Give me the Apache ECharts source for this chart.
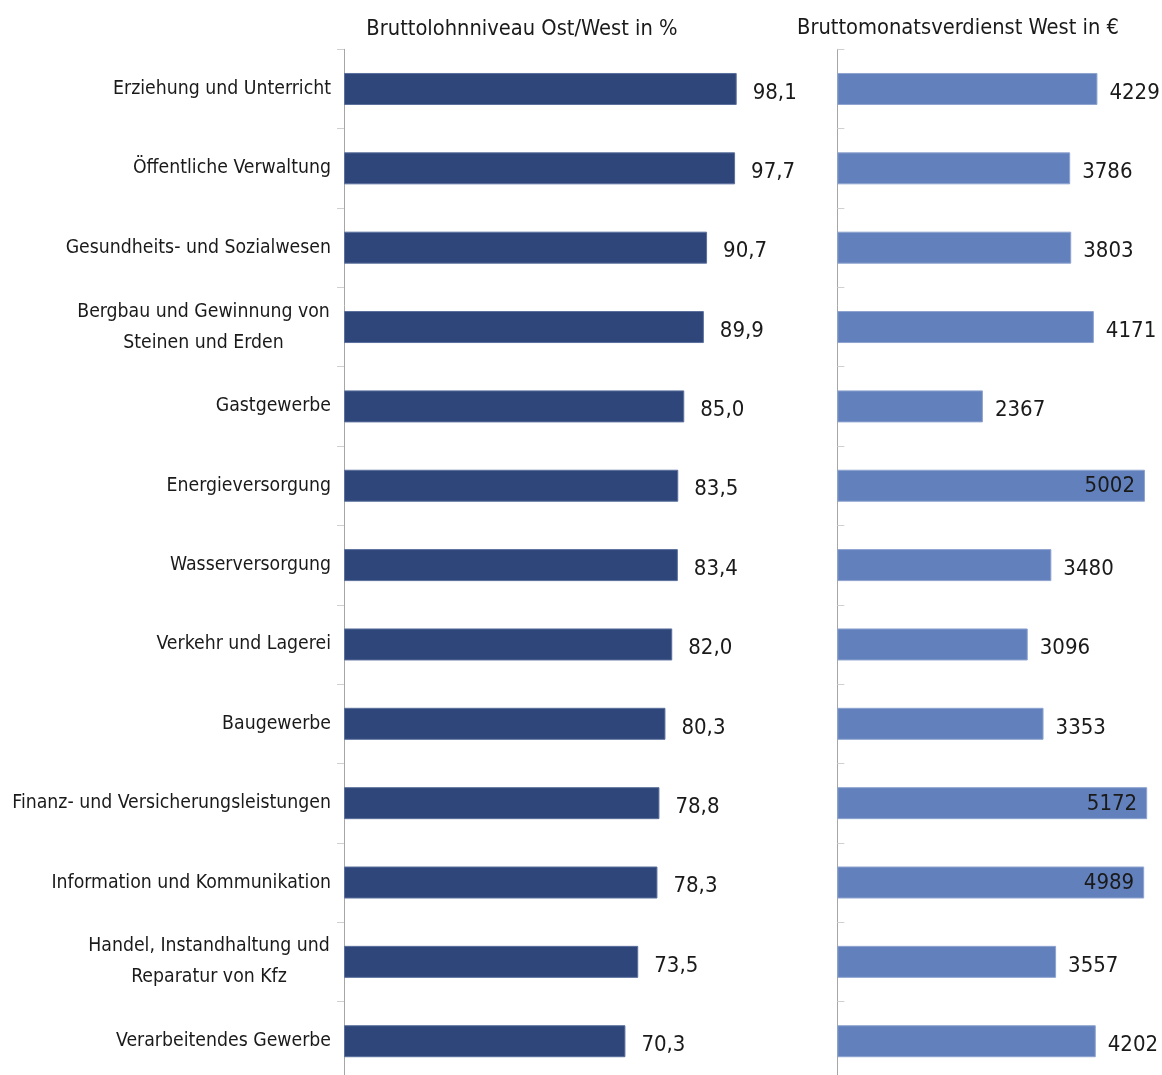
<!DOCTYPE html>
<html>
<head>
<meta charset="utf-8">
<script src="https://cdn.jsdelivr.net/npm/echarts@6/dist/echarts.min.js"></script>
<style>
  html, body { margin: 0; padding: 0; background: #ffffff; }
  #chart { width: 1162px; height: 1075px; }
</style>
</head>
<body>
<div id="chart"></div>
<script>
// Wirtschaftszweige (von oben nach unten)
const branchen = [
  'Erziehung und Unterricht',
  'Öffentliche Verwaltung',
  'Gesundheits- und Sozialwesen',
  'Bergbau und Gewinnung von\nSteinen und Erden',
  'Gastgewerbe',
  'Energieversorgung',
  'Wasserversorgung',
  'Verkehr und Lagerei',
  'Baugewerbe',
  'Finanz- und Versicherungsleistungen',
  'Information und Kommunikation',
  'Handel, Instandhaltung und\nReparatur von Kfz',
  'Verarbeitendes Gewerbe'
];
// Bruttolohnniveau Ost im Verhältnis zu West, in %
const lohnniveau = [98.1, 97.7, 90.7, 89.9, 85.0, 83.5, 83.4, 82.0, 80.3, 78.8, 78.3, 73.5, 70.3];
// Bruttomonatsverdienst West, in €
const verdienstWest = [4229, 3786, 3803, 4171, 2367, 5002, 3480, 3096, 3353, 5172, 4989, 3557, 4202];
const titel = ['Bruttolohnniveau Ost/West in %', 'Bruttomonatsverdienst West in €'];

const FONT = '"Liberation Sans Narrow", "DejaVu Sans Condensed", "Open Sans", sans-serif';
const CAT_SIZE = 19.3;
const VAL_SIZE = 22;
const TITLE_SIZE = 21.7;
const TEXT = '#1a1a1a';
const DARK = '#2E4679';
const LIGHT = '#6281BC';
const AXIS_MAX_RIGHT = 5030;

// Mehrzeilige Beschriftungen: Zeilen zentriert, Block rechtsbündig an der Achse
const measure = (() => {
  const ctx = document.createElement('canvas').getContext('2d');
  ctx.font = CAT_SIZE + 'px ' + FONT;
  return s => ctx.measureText(s).width;
})();
const rich = {};
const labelText = branchen.map((name, i) => {
  const lines = name.split('\n');
  if (lines.length === 1) return name;
  const w = Math.ceil(Math.max(...lines.map(measure))) + 2;
  const key = 'm' + i;
  rich[key] = { width: w, align: 'center', fontSize: CAT_SIZE, fontFamily: FONT, color: TEXT, lineHeight: 31 };
  return lines.map(l => '{' + key + '|' + l + '}').join('\n');
});

const fmtDe = v => v.toFixed(1).replace('.', ',');

const chart = echarts.init(document.getElementById('chart'), null, { renderer: 'canvas' });
chart.setOption({
  animation: false,
  backgroundColor: '#ffffff',
  title: [
    { text: titel[0], left: 517, top: 13, textAlign: 'center',
      textStyle: { fontFamily: FONT, fontSize: TITLE_SIZE, fontWeight: 'normal', color: TEXT } },
    { text: titel[1], left: 953, top: 12, textAlign: 'center',
      textStyle: { fontFamily: FONT, fontSize: TITLE_SIZE, fontWeight: 'normal', color: TEXT } }
  ],
  grid: [
    { left: 344, top: 49.3, width: 400.3, height: 1031.6, containLabel: false, outerBoundsMode: 'none' },
    { left: 837.3, top: 49.3, width: 309.4, height: 1031.6, containLabel: false, outerBoundsMode: 'none' }
  ],
  xAxis: [
    { gridIndex: 0, type: 'value', min: 0, max: 100, show: false },
    { gridIndex: 1, type: 'value', min: 0, max: AXIS_MAX_RIGHT, show: false }
  ],
  yAxis: [
    {
      gridIndex: 0, type: 'category', data: labelText, inverse: true,
      axisLine: { lineStyle: { color: '#a6a6a6', width: 1 } },
      axisTick: { show: true, inside: false, length: 7, lineStyle: { color: '#d0d0d0' } },
      axisLabel: { margin: 13, fontFamily: FONT, fontSize: CAT_SIZE, color: TEXT, rich: rich, lineHeight: 31 }
    },
    {
      gridIndex: 1, type: 'category', data: branchen, inverse: true,
      axisLine: { lineStyle: { color: '#a6a6a6', width: 1 } },
      axisTick: { show: true, inside: true, length: 7, lineStyle: { color: '#d0d0d0' } },
      axisLabel: { show: false }
    }
  ],
  series: [
    {
      type: 'bar', xAxisIndex: 0, yAxisIndex: 0, barWidth: 32,
      data: lohnniveau,
      itemStyle: { color: DARK, borderColor: '#5a6f9c', borderWidth: 1 },
      label: { show: true, position: 'right', distance: 16, formatter: p => fmtDe(p.value),
               fontFamily: FONT, fontSize: VAL_SIZE, color: TEXT, offset: [0, 4] }
    },
    {
      type: 'bar', xAxisIndex: 1, yAxisIndex: 1, barWidth: 32, clip: true,
      data: verdienstWest.map(v => ({
        value: v,
        label: v > AXIS_MAX_RIGHT - 200 ? { position: 'insideRight', distance: 10, offset: [0, 1] } : {}
      })),
      itemStyle: { color: LIGHT, borderColor: '#8ea3cf', borderWidth: 1 },
      label: { show: true, position: 'right', distance: 12, formatter: p => String(p.value),
               fontFamily: FONT, fontSize: VAL_SIZE, color: TEXT, offset: [0, 4] }
    }
  ]
});
</script>
</body>
</html>
